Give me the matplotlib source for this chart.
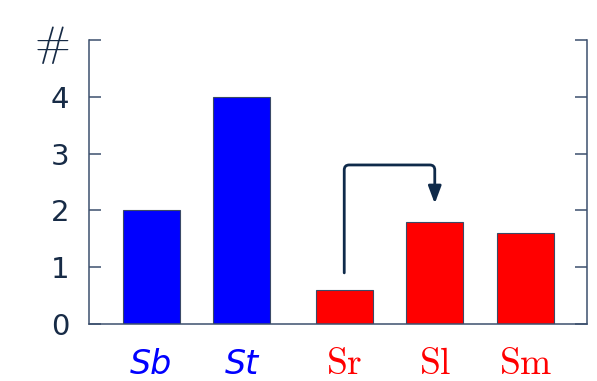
import numpy as np
import matplotlib.pyplot as plt
from matplotlib.path import Path
from matplotlib.patches import FancyArrowPatch

plt.rcParams['mathtext.fontset'] = 'cm'

labels = ['Sb', 'St', 'Sr', 'Sl', 'Sm']
values = [2, 4, 0.6, 1.8, 1.6]
pos = [0, 1, 2.13, 3.13, 4.13]
colors = ['#0000ff', '#0000ff', '#ff0000', '#ff0000', '#ff0000']
yticks = [0, 1, 2, 3, 4, 5]
ytick_labels = ['0', '1', '2', '3', '4', r'$\#$']

navy = '#172b46'
spine_col = '#3c506e'

fig = plt.figure(figsize=(5.97, 3.81), dpi=100)
ax = fig.add_axes([0.149, 0.1496, 0.834, 0.7454])

ax.bar(pos, values, width=0.63, color=colors, edgecolor='#3a4a66', linewidth=0.8)

ax.set_xlim(-0.69, 4.81)
ax.set_ylim(0, 5)
ax.set_yticks(yticks)
ax.set_yticklabels(ytick_labels)
ax.set_xticks(pos)
ax.set_xticklabels([])

ax.spines['top'].set_visible(False)
for s in ['left', 'right', 'bottom']:
    ax.spines[s].set_color(spine_col)
    ax.spines[s].set_linewidth(1.1)

ax.tick_params(axis='y', direction='in', length=8.5, width=1.1, color=spine_col,
               labelcolor=navy, labelsize=21, right=True, pad=14)
ax.tick_params(axis='x', length=0)
ax.get_yticklabels()[-1].set_fontsize(31)

# x labels: first group italic sans, second group serif roman
for p, lab, c in zip(pos, labels, colors):
    if c == '#0000ff':
        ax.text(p, -0.72, lab, color=c, fontsize=24, fontstyle='italic',
                ha='center', va='center')
    else:
        ax.text(p, -0.70, r'$\mathrm{%s}$' % lab, color=c, fontsize=27,
                ha='center', va='center')

# arrow from Sr to Sl with rounded corners
x0, x1 = pos[2], pos[3]
y0, ytop, y1 = 0.9, 2.8, 2.12
rx, ry = 0.055, 0.088
verts = [(x0, y0), (x0, ytop - ry), (x0, ytop), (x0 + rx, ytop),
         (x1 - rx, ytop), (x1, ytop), (x1, ytop - ry), (x1, y1)]
codes = [Path.MOVETO, Path.LINETO, Path.CURVE3, Path.CURVE3,
         Path.LINETO, Path.CURVE3, Path.CURVE3, Path.LINETO]
arrow = FancyArrowPatch(path=Path(verts, codes),
                        arrowstyle='-|>,head_length=0.75,head_width=0.28',
                        mutation_scale=14, color='#0f2a4a', lw=2,
                        shrinkA=0, shrinkB=0, transform=ax.transData)
ax.add_patch(arrow)

plt.savefig('out.png', dpi=100)
